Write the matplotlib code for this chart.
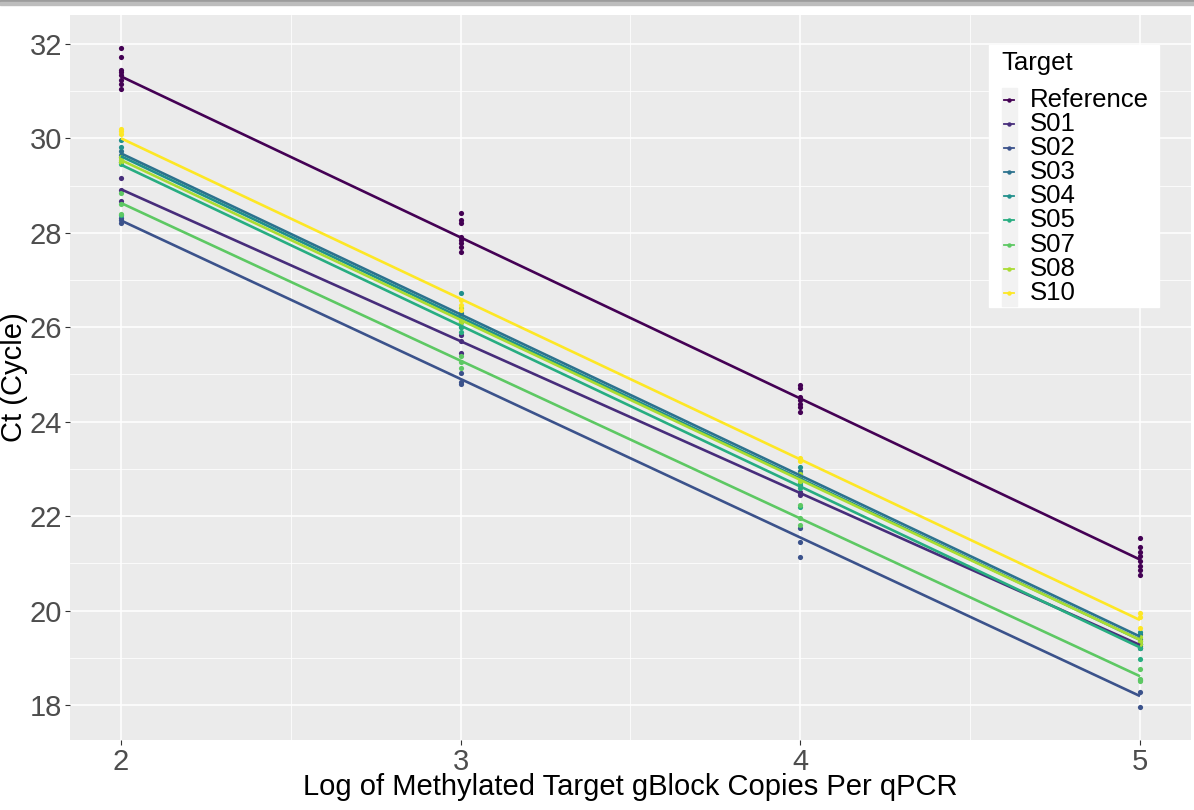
import numpy as np
import matplotlib
matplotlib.use('Agg')
import matplotlib.pyplot as plt
from matplotlib.lines import Line2D
from matplotlib.patches import Rectangle

plt.rcParams['font.family'] = ['Liberation Sans', 'DejaVu Sans']

# ---------------- data ----------------
targets = ['Reference', 'S01', 'S02', 'S03', 'S04', 'S05', 'S07', 'S08', 'S10']
colors = ['#440154', '#472D7B', '#3B528B', '#2C728E', '#21908C',
          '#27AD81', '#5DC863', '#AADC32', '#FDE725']
log_copies = [2, 3, 4, 5]

# Ct replicates per log copy level (2, 3, 4, 5)
ct_reference = [[31.91, 31.73, 31.45, 31.40, 31.34, 31.24, 31.15, 31.05],
                [28.41, 28.27, 28.20, 27.92, 27.85, 27.78, 27.70, 27.60],
                [24.78, 24.71, 24.53, 24.45, 24.38, 24.30, 24.21],
                [21.53, 21.34, 21.25, 21.15, 21.05, 20.95, 20.85, 20.75]]
ct_s01 = [[29.16, 28.68, 28.90], [25.83, 25.45, 25.70], [22.49, 22.52, 22.45], [19.30, 19.20, 19.25]]
ct_s02 = [[28.31, 28.20, 28.28], [25.04, 24.80, 24.85], [21.75, 21.46, 21.14], [18.53, 18.28, 17.95]]
ct_s03 = [[29.72, 29.65, 29.60], [26.30, 26.20, 26.10], [22.95, 22.85, 22.80], [19.50, 19.40, 19.35]]
ct_s04 = [[29.97, 29.82, 29.50], [26.73, 26.26, 26.00], [23.04, 22.90, 22.66], [19.55, 19.30, 19.20]]
ct_s05 = [[29.45, 29.50, 28.38], [26.00, 26.10, 25.90], [22.60, 22.70, 22.20], [18.97, 19.30, 19.20]]
ct_s07 = [[28.85, 28.40, 28.60], [25.27, 25.14, 25.40], [22.23, 21.96, 21.81], [18.76, 18.55, 18.50]]
ct_s08 = [[29.55, 29.50, 29.60], [26.40, 26.20, 26.10], [22.90, 22.85, 22.75], [19.45, 19.35, 19.30]]
ct_s10 = [[30.20, 30.16, 30.10], [26.58, 26.47, 26.36], [23.23, 23.20, 23.17], [19.94, 19.86, 19.63]]
ct_all = [ct_reference, ct_s01, ct_s02, ct_s03, ct_s04, ct_s05, ct_s07, ct_s08, ct_s10]

# linear-fit line values at log copies 2 and 5
fit_at_2 = [31.31, 28.92, 28.26, 29.68, 29.62, 29.44, 28.63, 29.54, 30.00]
fit_at_5 = [21.08, 19.27, 18.19, 19.45, 19.38, 19.22, 18.61, 19.38, 19.80]

x_ticks = [2, 3, 4, 5]
y_ticks = [18, 20, 22, 24, 26, 28, 30, 32]

# ---------------- figure ----------------
W, H = 1194, 810
fig = plt.figure(figsize=(W / 100, H / 100), dpi=100)

def fx(px):
    return px / W

def fy(py):
    return 1 - py / H

# top gray bar
fig.patches.append(Rectangle((0, fy(2.5)), 1, 2.5 / H, transform=fig.transFigure,
                             color='#9c9c9c', zorder=0))
fig.patches.append(Rectangle((0, fy(5)), 1, 2.5 / H, transform=fig.transFigure,
                             color='#bdbdbd', zorder=0))

left, right, top, bottom = 70, 1191, 15, 740
ax = fig.add_axes([fx(left), fy(bottom), (right - left) / W, (bottom - top) / H])
ax.set_facecolor('#EBEBEB')
for s in ax.spines.values():
    s.set_visible(False)

ax.set_xlim(1.85, 5.15)
ax.set_ylim(17.26, 32.61)
ax.set_xticks(x_ticks)
ax.set_yticks(y_ticks)
ax.set_xticks([2.5, 3.5, 4.5], minor=True)
ax.set_yticks([19, 21, 23, 25, 27, 29, 31], minor=True)
ax.grid(which='major', color='white', linewidth=1.1)
ax.grid(which='minor', color='white', linewidth=0.55)
ax.set_axisbelow(True)
ax.tick_params(which='major', length=3.5, width=0.8, color='#333333',
               labelsize=21, labelcolor='#4D4D4D', pad=2)
ax.tick_params(which='minor', length=0)

ax.set_xlabel('Log of Methylated Target gBlock Copies Per qPCR', fontsize=21,
              color='black')
ax.set_ylabel('Ct (Cycle)', fontsize=21, color='black')
ax.xaxis.set_label_coords(0.5, (bottom - 773) / (bottom - top))
ax.yaxis.set_label_coords((28 - left) / (right - left), 0.5)

for ct, col in zip(ct_all, colors):
    for xv, vals in zip(log_copies, ct):
        ax.scatter([xv] * len(vals), vals, s=14, color=col, linewidths=0, zorder=3)

for f2, f5, col in zip(fit_at_2, fit_at_5, colors):
    ax.plot([2, 5], [f2, f5], color=col, linewidth=1.9, zorder=4,
            solid_capstyle='butt')

# ---------------- legend (manual, ggplot style) ----------------
fig.patches.append(Rectangle((fx(989), fy(307)), (1159 - 989) / W, (307 - 45) / H,
                             transform=fig.transFigure, color='white', zorder=5))
fig.patches.append(Rectangle((fx(1002), fy(306)), 15 / W, (306 - 88) / H,
                             transform=fig.transFigure, color='#F2F2F2', zorder=6))
fig.text(fx(1001), fy(63), 'Target', fontsize=18.5, color='black',
         ha='left', va='center', zorder=7)
for i, (t, col) in enumerate(zip(targets, colors)):
    yc = 100 + i * 24.1
    fig.lines.append(Line2D([fx(1004), fx(1014)], [fy(yc), fy(yc)],
                            transform=fig.transFigure, color=col, linewidth=1.3,
                            zorder=7))
    fig.lines.append(Line2D([fx(1009)], [fy(yc)], transform=fig.transFigure,
                            marker='o', markersize=3.2, color=col,
                            markeredgewidth=0, zorder=8))
    fig.text(fx(1030), fy(yc), t, fontsize=18.5, color='black',
             ha='left', va='center', zorder=7)

fig.savefig('out.png', dpi=100)
